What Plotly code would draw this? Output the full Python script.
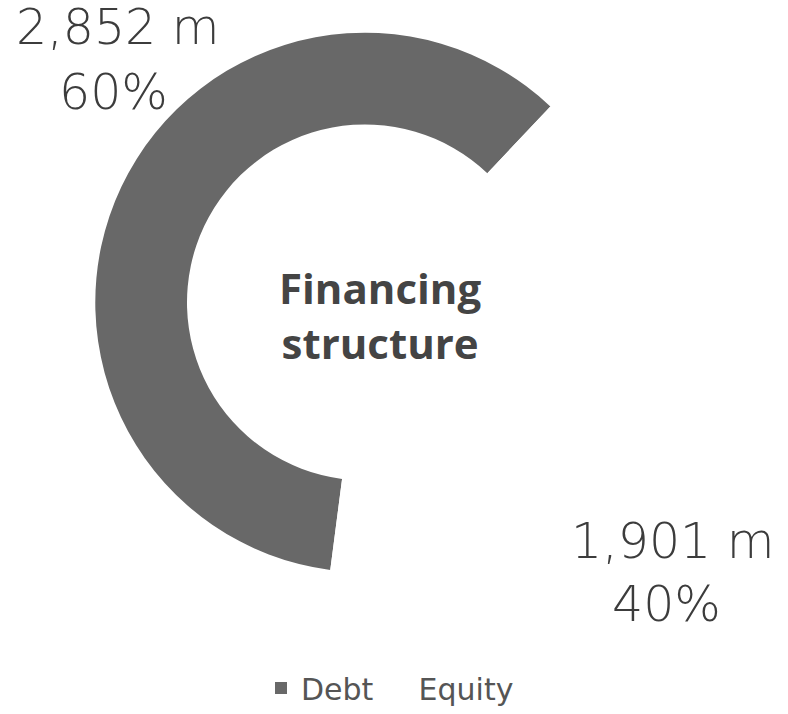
import plotly.graph_objects as go

labels = ["Debt", "Equity"]
values = [2852, 1901]
colors = ["#686868", "#ffffff"]
center_title = ["Financing", "structure"]

W, H = 788, 714
total = sum(values)
pcts = [round(v / total * 100) for v in values]

fig = go.Figure()
fig.add_trace(go.Pie(
    labels=labels,
    values=values,
    hole=0.66,
    sort=False,
    direction="clockwise",
    rotation=-172.6,
    marker=dict(colors=colors, line=dict(width=0)),
    textinfo="none",
    hoverinfo="label+value+percent",
    domain=dict(x=[93 / W, 637 / W], y=[(H - 577) / H, (H - 33) / H]),
    showlegend=True,
))

label_font = dict(family="DejaVu Sans, sans-serif", size=49, color="#3c3c3c", weight=300)

# value labels (Debt top-left, Equity bottom-right)
pos = [((118, 28), (113, 93)), ((673, 546), (666, 610))]
for i, (p1, p2) in enumerate(pos):
    fig.add_annotation(x=p1[0] / W, y=1 - p1[1] / H, xref="paper", yref="paper",
                       text=f"{values[i]:,} m", showarrow=False, font=label_font,
                       xanchor="center", yanchor="middle")
    fig.add_annotation(x=p2[0] / W, y=1 - p2[1] / H, xref="paper", yref="paper",
                       text=f"{pcts[i]}%", showarrow=False, font=label_font,
                       xanchor="center", yanchor="middle")

fig.add_annotation(x=380 / W, y=1 - 318 / H, xref="paper", yref="paper",
                   text="<br>".join(center_title), showarrow=False,
                   font=dict(family="Open Sans, sans-serif", size=42, color="#444444", weight=700),
                   xanchor="center", yanchor="middle")

fig.update_layout(
    width=W, height=H,
    margin=dict(l=0, r=0, t=0, b=0),
    paper_bgcolor="white",
    plot_bgcolor="white",
    legend=dict(orientation="h", x=390 / W, y=1 - 694 / H, xanchor="center", yanchor="middle",
                font=dict(family="DejaVu Sans, sans-serif", size=30, color="#555555"),
                itemwidth=30, traceorder="normal"),
)

fig.write_html("out.html")
